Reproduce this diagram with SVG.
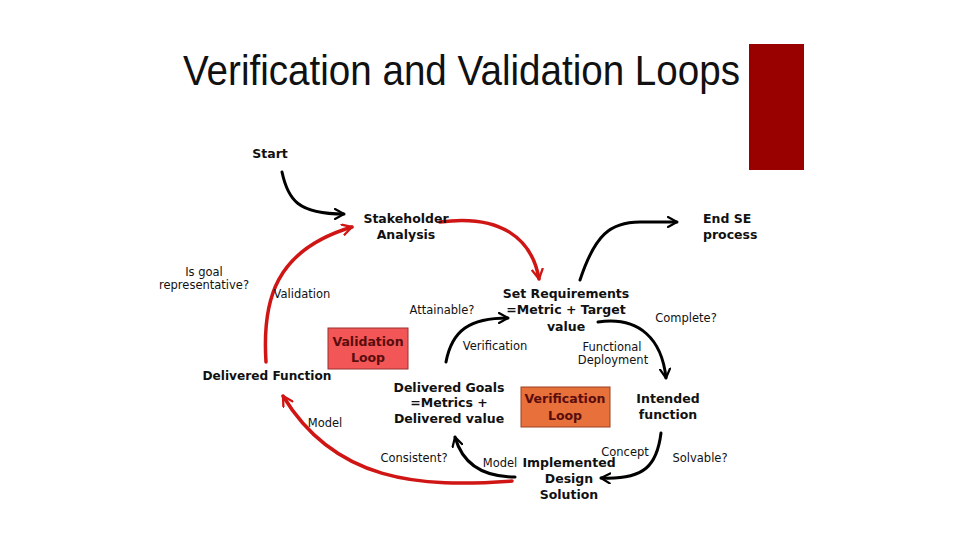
<svg xmlns="http://www.w3.org/2000/svg" width="960" height="540" viewBox="0 0 960 540">
<style>
.t{font-family:"DejaVu Sans","Verdana",sans-serif;font-weight:bold;font-size:12.5px;fill:#111;text-anchor:middle}
.n{font-family:"DejaVu Sans","Verdana",sans-serif;font-size:11.5px;fill:#111;text-anchor:middle}
.bt{font-family:"DejaVu Sans","Verdana",sans-serif;font-weight:bold;font-size:12.5px;fill:#5a0d0d;text-anchor:middle}
.k{fill:none;stroke:#000;stroke-width:3;stroke-linecap:round}
.r{fill:none;stroke:#d01515;stroke-width:3.5;stroke-linecap:round}
</style>
<defs>
<marker id="ak" viewBox="0 0 12 12" refX="10" refY="6" markerWidth="4" markerHeight="4" orient="auto" markerUnits="strokeWidth">
<path d="M1,1 L10,6 L1,11" fill="none" stroke="#000" stroke-width="2.2" stroke-linecap="round" stroke-linejoin="round"/>
</marker>
<marker id="ar" viewBox="0 0 12 12" refX="10" refY="6" markerWidth="3.6" markerHeight="3.6" orient="auto" markerUnits="strokeWidth">
<path d="M1,1 L10,6 L1,11" fill="none" stroke="#d01515" stroke-width="2.2" stroke-linecap="round" stroke-linejoin="round"/>
</marker>
</defs>
<rect width="960" height="540" fill="#fff"/>
<g id="title">
<text x="183" y="85" font-family="Liberation Sans, Arial, sans-serif" font-size="43" fill="#111" textLength="557" lengthAdjust="spacingAndGlyphs">Verification and Validation Loops</text>
<rect x="749" y="44" width="55" height="126" fill="#990000"/>
</g>
<g id="connectors">
<path class="k" d="M282,172 C288,200 298,214 344,214" marker-end="url(#ak)"/>
<path class="r" d="M266,362 C262,300 275,250 352,227" marker-end="url(#ar)"/>
<path class="r" d="M440,222 C500,214 532,238 539,279" marker-end="url(#ar)"/>
<path class="k" d="M580,280 C595,235 610,222 640,222 L677,222" marker-end="url(#ak)"/>
<path class="k" d="M446,362 C452,330 470,318 508,318" marker-end="url(#ak)"/>
<path class="k" d="M598,322 C640,316 662,340 666,378" marker-end="url(#ak)"/>
<path class="k" d="M661,433 C657,465 645,480 601,478" marker-end="url(#ak)"/>
<path class="k" d="M515,477 C480,477 462,462 455,437" marker-end="url(#ak)"/>
<path class="r" d="M512,481 C420,488 335,482 283,396" marker-end="url(#ar)"/>
</g>
<g id="start"><text class="t" x="270" y="158">Start</text></g>
<g id="stakeholder"><text class="t" x="406" y="223">Stakeholder</text><text class="t" x="406" y="239">Analysis</text></g>
<g id="end"><text class="t" x="703" y="223" text-anchor="start" style="text-anchor:start">End SE</text><text class="t" x="703" y="239" style="text-anchor:start">process</text></g>
<g id="setreq"><text class="t" x="566" y="298">Set Requirements</text><text class="t" x="566" y="314">=Metric +  Target</text><text class="t" x="566" y="331">value</text></g>
<g id="intended"><text class="t" x="668" y="403">Intended</text><text class="t" x="668" y="419">function</text></g>
<g id="implemented"><text class="t" x="569" y="467">Implemented</text><text class="t" x="569" y="483">Design</text><text class="t" x="569" y="499">Solution</text></g>
<g id="delgoals"><text class="t" x="449" y="392">Delivered Goals</text><text class="t" x="449" y="407">=Metrics +</text><text class="t" x="449" y="423">Delivered value</text></g>
<g id="delfunc"><text class="t" x="267" y="380" textLength="129" lengthAdjust="spacingAndGlyphs">Delivered Function</text></g>
<g id="validationloop"><rect x="328" y="328" width="80" height="41" fill="#f25656" stroke="#9a3030" stroke-width="1"/><text class="bt" x="368" y="346">Validation</text><text class="bt" x="368" y="362">Loop</text></g>
<g id="verificationloop"><rect x="521" y="387" width="89" height="40" fill="#e8703a" stroke="#9a4020" stroke-width="1"/><text class="bt" x="565" y="403">Verification</text><text class="bt" x="565" y="420">Loop</text></g>
<g id="labels">
<text class="n" x="204" y="276">Is goal</text>
<text class="n" x="204" y="289">representative?</text>
<text class="n" x="302" y="298">Validation</text>
<text class="n" x="442" y="314">Attainable?</text>
<text class="n" x="686" y="322">Complete?</text>
<text class="n" x="495" y="350">Verification</text>
<text class="n" x="612" y="351">Functional</text>
<text class="n" x="613" y="364">Deployment</text>
<text class="n" x="325" y="427">Model</text>
<text class="n" x="625" y="456">Concept</text>
<text class="n" x="700" y="462">Solvable?</text>
<text class="n" x="414" y="462">Consistent?</text>
<text class="n" x="500" y="467">Model</text>
</g>
</svg>
